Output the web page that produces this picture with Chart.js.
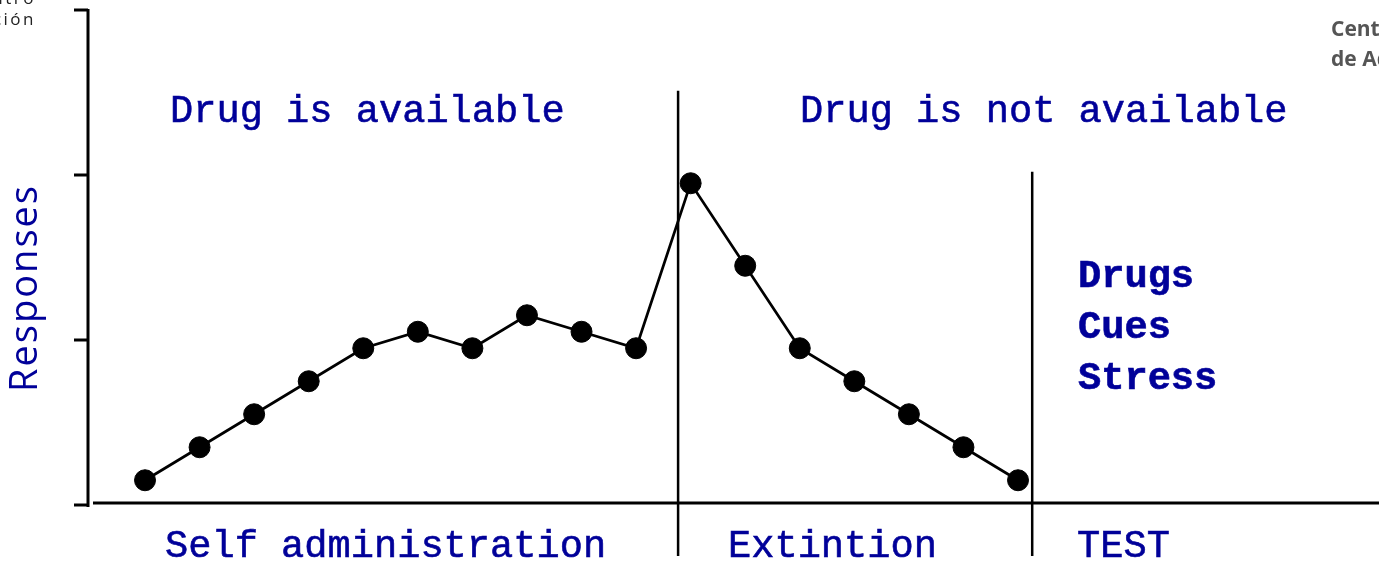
<!DOCTYPE html>
<html>
<head>
<meta charset="utf-8">
<script src="https://cdn.jsdelivr.net/npm/chart.js@4.4.1/dist/chart.umd.min.js"></script>
<style>
html,body{margin:0;padding:0;background:#fff;overflow:hidden;}
#wrap{width:1379px;height:570px;position:relative;}
canvas{display:block;}
</style>
</head>
<body>
<div id="wrap"><canvas id="c" width="1379" height="570"></canvas></div>
<script>
// ---- data ----
const sessions = [0,1,2,3,4,5,6,7,8,9,10,11,12,13,14,15,16];
const responses = [1.5,3.5,5.5,7.5,9.5,10.5,9.5,11.5,10.5,9.5,19.5,14.5,9.5,7.5,5.5,3.5,1.5];
const yTicks = [0,10,20,30];
const phaseLabels = ["Self administration","Extintion","TEST"];
const availabilityLabels = ["Drug is available","Drug is not available"];
const testTriggers = ["Drugs","Cues","Stress"];
const yTitle = "Responses";
// divider positions in data units (session index, response level at top)
const dividerX = [9.77, 16.26];
const dividerTop = [25.1, 20.2];

const NAVY = "#000099";
const MONO = "'Liberation Mono', 'DejaVu Sans Mono', monospace";

const decor = {
  id: 'decor',
  afterDraw(chart) {
    const ctx = chart.ctx;
    const xs = chart.scales.x, ys = chart.scales.y;
    const ca = chart.chartArea;
    ctx.save();
    ctx.strokeStyle = "#000";
    ctx.lineCap = "butt";
    // y axis
    ctx.lineWidth = 3;
    ctx.beginPath();
    ctx.moveTo(ca.left, ys.getPixelForValue(30) - 1);
    ctx.lineTo(ca.left, ys.getPixelForValue(0) + 2);
    ctx.stroke();
    yTicks.forEach(v => {
      const p = ys.getPixelForValue(v);
      ctx.beginPath();
      ctx.moveTo(ca.left - 14, p);
      ctx.lineTo(ca.left, p);
      ctx.stroke();
    });
    // x axis
    ctx.beginPath();
    ctx.moveTo(ca.left + 5, ys.getPixelForValue(0) - 2);
    ctx.lineTo(ca.right, ys.getPixelForValue(0) - 2);
    ctx.stroke();
    // dividers
    ctx.lineWidth = 2.5;
    dividerX.forEach((dx, i) => {
      const px = xs.getPixelForValue(dx);
      ctx.beginPath();
      ctx.moveTo(px, ys.getPixelForValue(dividerTop[i]));
      ctx.lineTo(px, ca.bottom + 51);
      ctx.stroke();
    });
    // texts
    ctx.fillStyle = NAVY;
    ctx.strokeStyle = NAVY;
    ctx.lineWidth = 0.6;
    ctx.textBaseline = "alphabetic";
    ctx.textAlign = "left";
    const put = (t, x, y) => { ctx.fillText(t, x, y); ctx.strokeText(t, x, y); };
    ctx.font = "38.7px " + MONO;
    put(availabilityLabels[0], 170, 122);
    put(availabilityLabels[1], 800, 122);
    put(phaseLabels[0], 165, 557);
    put(phaseLabels[1], 728, 557);
    put(phaseLabels[2], 1077, 557);
    ctx.font = "bold 38.7px " + MONO;
    put(testTriggers[0], 1078, 287);
    put(testTriggers[1], 1078, 338);
    put(testTriggers[2], 1078, 389);
    // y title
    ctx.save();
    ctx.translate(37, 288);
    ctx.rotate(-Math.PI / 2);
    ctx.textAlign = "center";
    ctx.font = "38px 'Open Sans', sans-serif";
    if ('letterSpacing' in ctx) ctx.letterSpacing = "2px";
    ctx.fillText(yTitle, 0, 0);
    if ('letterSpacing' in ctx) ctx.letterSpacing = "0px";
    ctx.restore();
    // corner logos (clipped)
    ctx.fillStyle = "#222";
    ctx.textAlign = "right";
    ctx.font = "17px 'Open Sans', sans-serif";
    if ('letterSpacing' in ctx) ctx.letterSpacing = "2.5px";
    ctx.fillText("Centro", 36, 4);
    ctx.fillText("Investigación", 36, 25);
    if ('letterSpacing' in ctx) ctx.letterSpacing = "0px";
    ctx.fillStyle = "#555";
    ctx.textAlign = "left";
    ctx.font = "bold 21px 'Open Sans', sans-serif";
    ctx.fillText("Centro", 1331, 36);
    ctx.fillText("de Adicciones", 1331, 66);
    ctx.restore();
  }
};

new Chart(document.getElementById('c'), {
  type: 'line',
  data: {
    datasets: [{
      data: sessions.map((s, i) => ({x: s, y: responses[i]})),
      borderColor: '#000',
      borderWidth: 2.7,
      backgroundColor: '#000',
      pointBackgroundColor: '#000',
      pointBorderColor: '#000',
      pointRadius: 10.5,
      pointBorderWidth: 1,
      tension: 0,
      fill: false,
      clip: false
    }]
  },
  options: {
    responsive: false,
    animation: false,
    events: [],
    layout: { autoPadding: false, padding: { left: 88, top: 10, right: 0, bottom: 65 } },
    plugins: { legend: { display: false }, tooltip: { enabled: false } },
    scales: {
      x: { type: 'linear', display: false, min: -1.045, max: 22.616 },
      y: { type: 'linear', display: false, min: 0, max: 30 }
    }
  },
  plugins: [decor]
});
</script>
</body>
</html>
